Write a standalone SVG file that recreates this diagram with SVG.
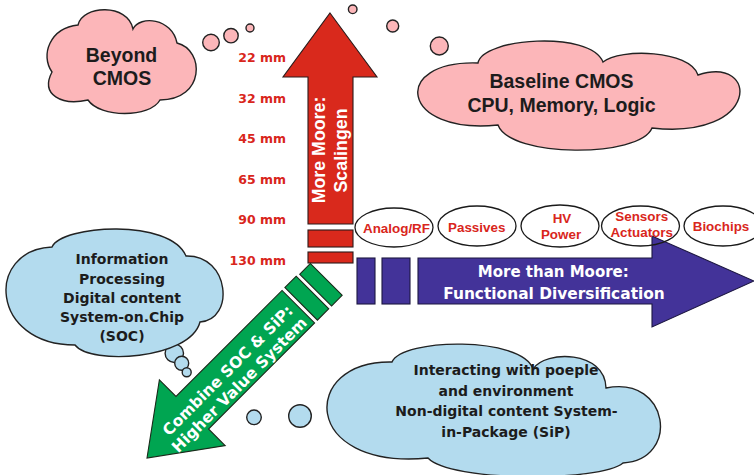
<svg xmlns="http://www.w3.org/2000/svg" width="754" height="475" viewBox="0 0 754 475">
  <style>
    .pink { fill: #fcb6b9; stroke: #222; stroke-width: 1.4; }
    .sky { fill: #b3dbee; stroke: #222; stroke-width: 1.4; }
    .oval { fill: none; stroke: #1a1a1a; stroke-width: 1.3; }
    .red { fill: #d9291c; stroke: #2a1a1a; stroke-width: 1.1; }
    .green { fill: #00a551; stroke: #1a2a1a; stroke-width: 1.1; }
    .violet { fill: #433399; stroke: #1c1640; stroke-width: 1.1; }
    .dark { fill: #1c1c1c; font-weight: bold; text-anchor: middle; }
    .sans { font-family: "Liberation Sans", Arial, sans-serif; }
    .wide { font-family: "DejaVu Sans", "Liberation Sans", sans-serif; }
    .scale { fill: #d9261c; font-family: "DejaVu Sans", sans-serif; font-weight: bold; font-size: 12.5px; text-anchor: end; }
    .tag { fill: #d9261c; font-family: "Liberation Sans", Arial, sans-serif; font-weight: bold; font-size: 13.4px; text-anchor: middle; }
    .white { fill: #ffffff; font-weight: bold; text-anchor: middle; }
  </style>

  <!-- thought-bubble trails between the clouds -->
  <g id="connectors">
    <circle class="pink" cx="211" cy="42.5" r="8.3"/>
    <circle class="pink" cx="231" cy="35.7" r="7.2"/>
    <circle class="pink" cx="250" cy="28" r="4"/>
    <circle class="pink" cx="352.7" cy="9.3" r="4.3"/>
    <circle class="pink" cx="392.7" cy="26" r="6"/>
    <circle class="pink" cx="439.3" cy="46" r="9"/>
    <circle class="sky" cx="174.3" cy="353.3" r="9.2"/>
    <circle class="sky" cx="181.7" cy="363.3" r="7"/>
    <circle class="sky" cx="186.7" cy="372.3" r="4.5"/>
    <circle class="sky" cx="254" cy="417.3" r="7.3"/>
    <circle class="sky" cx="300" cy="416" r="11.3"/>
  </g>

  <!-- Beyond CMOS -->
  <g id="beyond-cmos">
    <path class="pink" d="M78,25 C82,5 128,3 133,29 C140,15 172,18 177,43 C205,50 205,100 160,100 C150,118 100,118 88,100 C62,106 40,95 52,72 C40,55 50,28 78,25 Z"/>
    <text class="dark sans" font-size="19.5" x="121.5" y="61.5">Beyond</text>
    <text class="dark sans" font-size="19.5" x="122" y="85">CMOS</text>
  </g>

  <!-- Baseline CMOS -->
  <g id="baseline-cmos">
    <path class="pink" d="M478,63 C482,38 590,30 603,62 C620,48 690,50 698,75 C760,55 760,140 652,128 C640,158 510,158 498,125 C400,135 390,60 478,63 Z"/>
    <text class="dark sans" font-size="19.5" x="561.5" y="87.5">Baseline CMOS</text>
    <text class="dark sans" font-size="19.5" x="561.5" y="111.5">CPU, Memory, Logic</text>
  </g>

  <!-- Information processing / SOC -->
  <g id="soc">
    <path class="sky" d="M52,247 C62,225 170,218 186,256 C230,255 235,320 200,322 C190,360 90,365 75,345 C-10,345 -15,250 52,247 Z"/>
    <g class="dark wide" font-size="14">
      <text x="122" y="264">Information</text>
      <text x="122" y="283.5">Processing</text>
      <text x="122" y="302.5">Digital content</text>
      <text x="122" y="321.5">System-on.Chip</text>
      <text x="122" y="340.5">(SOC)</text>
    </g>
  </g>

  <!-- Interacting with people / SiP -->
  <g id="sip">
    <path class="sky" d="M392,362 C402,338 522,336 533,369 C545,350 605,350 606,388 C670,375 680,460 623,463 C600,482 450,482 428,458 C300,470 300,360 392,362 Z"/>
    <g class="dark wide" font-size="14">
      <text x="506" y="375">Interacting with poeple</text>
      <text x="506" y="395.5">and environment</text>
      <text x="506.5" y="416">Non-digital content System-</text>
      <text x="506" y="436.5">in-Package (SiP)</text>
    </g>
  </g>

  <!-- More Moore: scaling arrow with node scale -->
  <g id="more-moore">
    <path class="red" d="M330,13 L377,77 L353,77 L353,224 L308,224 L308,77 L283,77 Z"/>
    <rect class="red" x="308" y="230" width="45" height="17"/>
    <rect class="red" x="308" y="252" width="45" height="11"/>
    <text class="white sans" font-size="17.8" transform="translate(325,150) rotate(-90)">More Moore:</text>
    <text class="white sans" font-size="17.8" transform="translate(347,150.5) rotate(-90)">Scalingen</text>
  </g>
  <g id="node-scale">
    <text class="scale" x="286" y="62">22 mm</text>
    <text class="scale" x="286" y="102.5">32 mm</text>
    <text class="scale" x="286" y="143">45 mm</text>
    <text class="scale" x="286" y="183.5">65 mm</text>
    <text class="scale" x="286" y="224">90 mm</text>
    <text class="scale" x="286" y="264.5">130 mm</text>
  </g>

  <!-- More than Moore: diversification arrow -->
  <g id="more-than-moore">
    <rect class="violet" x="357" y="258" width="18" height="46"/>
    <rect class="violet" x="382" y="258" width="28" height="46"/>
    <path class="violet" d="M418,258 L652,258 L652,236 L754,281 L652,327 L652,304 L418,304 Z"/>
    <text class="white wide" font-size="15" x="553.3" y="277.3">More than Moore:</text>
    <text class="white wide" font-size="15.4" x="554" y="299.3">Functional Diversification</text>
  </g>

  <!-- Functional diversification fields -->
  <g id="analog-rf">
    <ellipse class="oval" cx="394" cy="227.5" rx="39" ry="19.5"/>
    <text class="tag" x="396.5" y="232.7">Analog/RF</text>
  </g>
  <g id="passives">
    <ellipse class="oval" cx="477" cy="226" rx="39" ry="20"/>
    <text class="tag" x="476.7" y="232">Passives</text>
  </g>
  <g id="hv-power">
    <ellipse class="oval" cx="560" cy="226" rx="39" ry="21"/>
    <text class="tag" x="562" y="223">HV</text>
    <text class="tag" x="561" y="239">Power</text>
  </g>
  <g id="sensors-actuators">
    <ellipse class="oval" cx="640.5" cy="226" rx="39" ry="20"/>
    <text class="tag" x="641.7" y="221">Sensors</text>
    <text class="tag" x="641.7" y="237">Actuators</text>
  </g>
  <g id="biochips">
    <ellipse class="oval" cx="723" cy="226" rx="39" ry="20"/>
    <text class="tag" x="721" y="230.5">Biochips</text>
  </g>

  <!-- Combine SOC & SiP arrow, drawn along its own axis -->
  <g id="combine" transform="translate(147,458) rotate(-45)">
    <path class="green" d="M0,0 L64,-46.5 L64,-23 L214,-23 L214,23 L64,23 L64,46.5 Z"/>
    <rect class="green" x="218" y="-23" width="16" height="46"/>
    <rect class="green" x="238" y="-22" width="15" height="45"/>
    <text class="white wide" font-size="15.6" x="119" y="0.5">Combine SOC &amp; SiP:</text>
    <text class="white wide" font-size="15.6" x="117" y="19">Higher Value System</text>
  </g>
</svg>
